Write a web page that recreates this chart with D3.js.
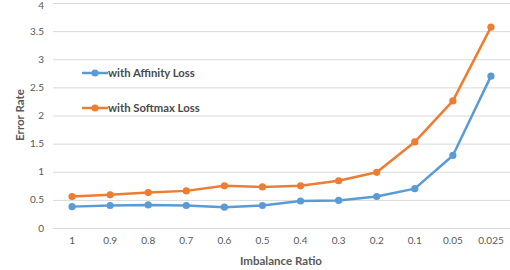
<!DOCTYPE html>
<html>
<head>
<meta charset="utf-8">
<script src="https://cdn.jsdelivr.net/npm/d3@7"></script>
<style>
  body { margin: 0; background: #fff; }
  text { font-family: Lato, "Open Sans", sans-serif; }
</style>
</head>
<body>
<svg id="chart" width="510" height="270"></svg>
<script>
const ratios = ["1", "0.9", "0.8", "0.7", "0.6", "0.5", "0.4", "0.3", "0.2", "0.1", "0.05", "0.025"];
const affinity = [0.38, 0.40, 0.41, 0.40, 0.37, 0.40, 0.48, 0.49, 0.56, 0.70, 1.29, 2.70];
const softmax = [0.56, 0.59, 0.63, 0.66, 0.75, 0.73, 0.75, 0.84, 0.99, 1.53, 2.26, 3.57];
const yTicks = [0, 0.5, 1, 1.5, 2, 2.5, 3, 3.5, 4];

const series = [
    { name: "with Affinity Loss", values: affinity, color: "#5B9BD5", legendY: 73 },
    { name: "with Softmax Loss", values: softmax, color: "#ED7D31", legendY: 108 },
];

const svg = d3.select("#chart");
const x = d3.scaleBand().domain(ratios).range([53, 510]);
const y = d3.scaleLinear().domain([0, 4]).range([228, 3]);
const cx = d => x(d) + x.bandwidth() / 2;

// gridlines
svg.append("g")
    .selectAll("line")
    .data(yTicks)
    .join("line")
    .attr("x1", 53).attr("x2", 510)
    .attr("y1", d => y(d) + 0.5).attr("y2", d => y(d) + 0.5)
    .attr("stroke", "#D9D9D9")
    .attr("stroke-width", 1);

// y tick labels
svg.append("g")
    .selectAll("text")
    .data(yTicks)
    .join("text")
    .attr("x", 44).attr("y", d => Math.max(y(d) + 3.5, 8.5))
    .attr("text-anchor", "end")
    .attr("font-size", 10)
    .attr("fill", "#595959")
    .text(d => d);

// x tick labels
svg.append("g")
    .selectAll("text")
    .data(ratios)
    .join("text")
    .attr("x", cx).attr("y", 244)
    .attr("text-anchor", "middle")
    .attr("font-size", 10)
    .attr("fill", "#595959")
    .text(d => d);

// axis titles
svg.append("text")
    .attr("x", 281).attr("y", 265)
    .attr("text-anchor", "middle")
    .attr("font-size", 11.5).attr("font-weight", "bold")
    .attr("fill", "#595959")
    .text("Imbalance Ratio");

svg.append("text")
    .attr("transform", "translate(24,115) rotate(-90)")
    .attr("text-anchor", "middle")
    .attr("font-size", 11.5).attr("font-weight", "bold")
    .attr("fill", "#595959")
    .text("Error Rate");

const line = d3.line().x((d, i) => cx(ratios[i])).y(d => y(d));

series.forEach(s => {
    svg.append("path")
        .datum(s.values)
        .attr("d", line)
        .attr("fill", "none")
        .attr("stroke", s.color)
        .attr("stroke-width", 2.5)
        .attr("stroke-linejoin", "round");

    svg.append("g")
        .selectAll("circle")
        .data(s.values)
        .join("circle")
        .attr("cx", (d, i) => cx(ratios[i]))
        .attr("cy", d => y(d))
        .attr("r", 3.6)
        .attr("fill", s.color);

    // legend
    const lg = svg.append("g");
    lg.append("line")
        .attr("x1", 82).attr("x2", 108)
        .attr("y1", s.legendY).attr("y2", s.legendY)
        .attr("stroke", s.color).attr("stroke-width", 2.5);
    lg.append("circle")
        .attr("cx", 95).attr("cy", s.legendY).attr("r", 3.6)
        .attr("fill", s.color);
    lg.append("text")
        .attr("x", 108).attr("y", s.legendY + 4)
        .attr("font-size", 11.3).attr("font-weight", "bold")
        .attr("fill", "#4a4a4a")
        .text(s.name);
});
</script>
</body>
</html>
